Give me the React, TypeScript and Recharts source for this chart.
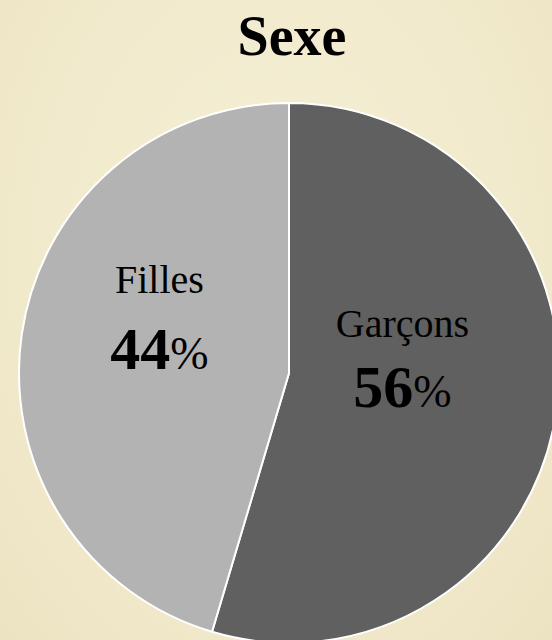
import { PieChart, Pie, Cell } from 'recharts';

const categories = ['Garçons', 'Filles'];
// slice sizes as drawn in the original (its wedge is a little smaller than the printed 56%)
const shares = [54.6, 45.4];
// percentages as printed on the original
const printedPercents = [56, 44];
const sliceColors = ['#606060', '#b3b3b3'];

const data = categories.map((name, i) => ({ name, value: shares[i], printed: printedPercents[i] }));

const SERIF = '"Liberation Serif", "DejaVu Serif", serif';

// label placement relative to the pie centre, in units of the radius
const labelOffsets: Record<number, [number, number, number]> = {
  0: [0.42, -0.133, 0.26],
  1: [-0.48, -0.296, 0.28],
};

const renderLabel = (props: any) => {
  const { cx, cy, outerRadius, index, name, payload } = props;
  const [fx, fy, gap] = labelOffsets[index] ?? [0, 0, 0.27];
  const x = cx + fx * outerRadius;
  const y = cy + fy * outerRadius;
  const printed = payload?.printed ?? printedPercents[index];
  return (
    <text textAnchor="middle" fill="#000" fontFamily={SERIF}>
      <tspan x={x} y={y} fontSize={40}>{name}</tspan>
      <tspan x={x} y={y + gap * outerRadius} fontSize={60} fontWeight="bold">
        {printed}
      </tspan>
      <tspan fontSize={46}>%</tspan>
    </text>
  );
};

export default function App() {
  return (
    <div
      style={{
        position: 'relative',
        width: 552,
        height: 640,
        overflow: 'hidden',
        background: 'radial-gradient(ellipse at 50% 40%, #f5efd6 0%, #f1eacc 60%, #ece3c2 100%)',
      }}
    >
      <style>{`body{margin:0}`}</style>
      <div
        style={{
          position: 'absolute',
          left: 0,
          top: 4,
          width: 584,
          textAlign: 'center',
          fontFamily: SERIF,
          fontWeight: 'bold',
          fontSize: 56,
          lineHeight: '64px',
          color: '#000',
        }}
      >
        Sexe
      </div>
      <PieChart
        width={552}
        height={640}
        margin={{ top: 0, right: 0, bottom: 0, left: 0 }}
        style={{ position: 'absolute', left: 0, top: 0 }}
      >
        <Pie
          data={data}
          dataKey="value"
          nameKey="name"
          cx={289}
          cy={373}
          outerRadius={270}
          startAngle={90}
          endAngle={-270}
          stroke="#ffffff"
          strokeWidth={2}
          label={renderLabel}
          labelLine={false}
          isAnimationActive={false}
        >
          {data.map((d, i) => (
            <Cell key={d.name} fill={sliceColors[i]} />
          ))}
        </Pie>
      </PieChart>
    </div>
  );
}
